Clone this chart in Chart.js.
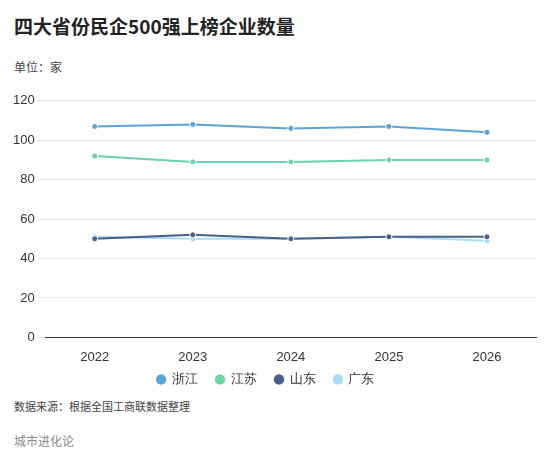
<!DOCTYPE html><html><head><meta charset="utf-8">
<script src="https://cdn.jsdelivr.net/npm/chart.js@4"></script>
<style>body{margin:0;width:550px;height:468px;background:#fff;font-family:"Noto Sans CJK SC";position:relative;overflow:hidden}
.t{position:absolute;left:14px;top:12px;font-size:19px;font-weight:bold;color:#222}
.u{position:absolute;left:14px;top:58px;font-size:12px;color:#444}
.s{position:absolute;left:14px;top:398px;font-size:11px;color:#444}
.f{position:absolute;left:14px;top:432px;font-size:12px;color:#888}
#w{position:absolute;left:0;top:90px;width:546px;height:306px}</style></head><body>
<div class="t">四大省份民企500强上榜企业数量</div><div class="u">单位：家</div>
<div id="w"><canvas id="c"></canvas></div>
<div class="s">数据来源：根据全国工商联数据整理</div><div class="f">城市进化论</div>
<script>
const years=["2022","2023","2024","2025","2026"];
const names=["浙江","江苏","山东","广东"];
const zhejiang=[107,108,106,107,104];
const jiangsu=[92,89,89,90,90];
const shandong=[50,52,50,51,51];
const guangdong=[51,50,50,51,49];
const colors=["#5ea3d6","#6dd3a8","#4a5f85","#a9dcf5"];
const data=[zhejiang,jiangsu,shandong,guangdong];
new Chart(document.getElementById('c'),{type:'line',data:{labels:years,datasets:names.map((n,i)=>({label:n,data:data[i],borderColor:colors[i],backgroundColor:colors[i],borderWidth:2,pointRadius:3,pointBorderColor:'#fff',pointBorderWidth:1}))},
options:{responsive:true,maintainAspectRatio:false,animation:false,layout:{padding:{left:10,right:10}},
scales:{x:{offset:true,grid:{display:false},border:{color:'#333'},ticks:{color:'#333',font:{size:13},padding:4}},
y:{min:0,max:120,ticks:{stepSize:20,color:'#333',font:{size:13}},border:{display:false},grid:{color:'#e6e6e6'}}},
plugins:{legend:{position:'bottom',labels:{usePointStyle:true,pointStyle:'circle',boxWidth:8,boxHeight:8,padding:4,color:'#333',font:{size:13},generateLabels:c=>Chart.defaults.plugins.legend.labels.generateLabels(c).map(l=>(l.text=l.text+'    ',l))}}}}});
</script></body></html>
